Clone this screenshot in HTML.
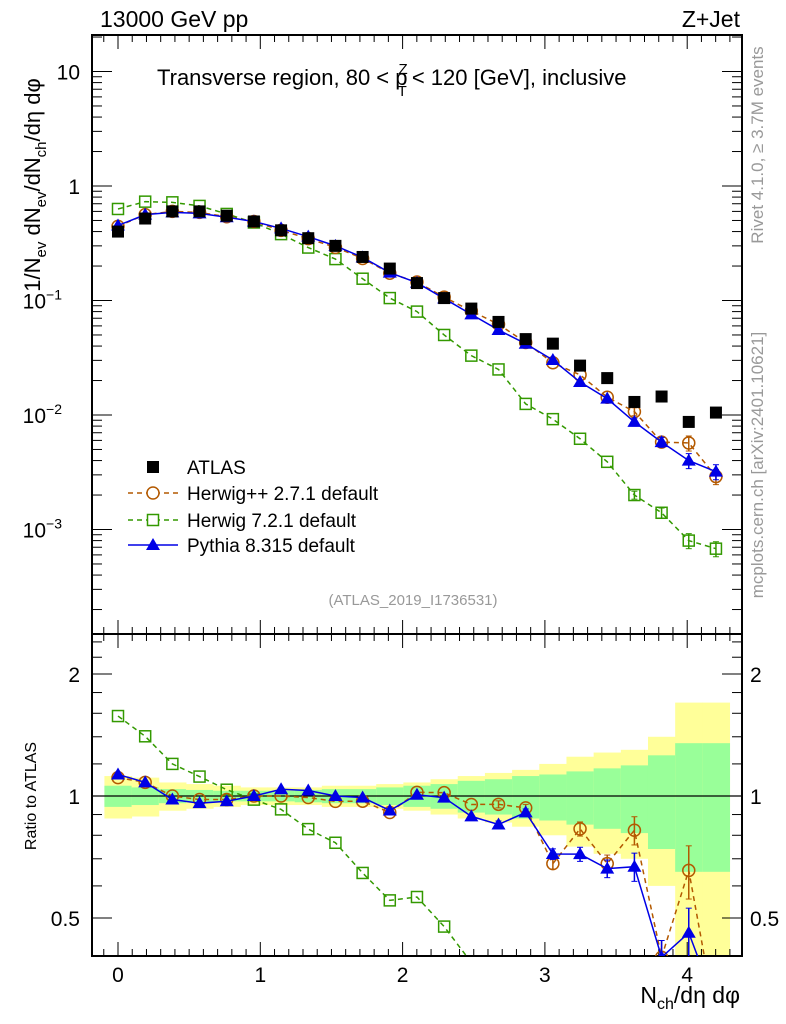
<!DOCTYPE html>
<html><head><meta charset="utf-8">
<style>
html,body{margin:0;padding:0;background:#fff;overflow:hidden;width:786px;height:1024px;}
svg{display:block;font-family:"Liberation Sans",sans-serif;}
</style></head>
<body>
<svg id="c" width="786" height="1024" viewBox="0 0 786 1024"></svg>
<script>
const xs = [0,0.191,0.382,0.573,0.764,0.955,1.146,1.337,1.528,1.719,1.910,2.101,2.292,2.483,2.674,2.865,3.056,3.247,3.438,3.629,3.820,4.011,4.202];
const atlas = [0.40,0.52,0.60,0.60,0.55,0.49,0.41,0.35,0.30,0.24,0.19,0.142,0.105,0.085,0.065,0.046,0.042,0.027,0.021,0.013,0.0145,0.0087,0.0105];
const pythia = [0.452,0.562,0.588,0.576,0.534,0.49,0.426,0.361,0.30,0.238,0.175,0.143,0.104,0.0757,0.0553,0.0419,0.0302,0.0194,0.0139,0.0087,0.0058,0.0040,0.0032];
const herwigpp = [0.444,0.562,0.60,0.588,0.539,0.49,0.41,0.347,0.291,0.233,0.173,0.145,0.107,0.081,0.062,0.043,0.0286,0.0224,0.0143,0.0107,0.0058,0.0057,0.0029];
const herwig7 = [0.63,0.73,0.72,0.67,0.57,0.48,0.38,0.29,0.23,0.155,0.105,0.08,0.05,0.033,0.025,0.0125,0.0092,0.0062,0.0039,0.0020,0.0014,0.0008,0.00068];
const mcErr = [0.01,0.01,0.01,0.01,0.01,0.01,0.01,0.01,0.01,0.01,0.01,0.01,0.01,0.015,0.02,0.02,0.03,0.04,0.05,0.08,0.1,0.15,0.15];
const greenBand = [0.06,0.05,0.04,0.035,0.03,0.03,0.03,0.035,0.04,0.04,0.05,0.06,0.07,0.09,0.10,0.12,0.13,0.15,0.17,0.19,0.26,0.35,0.35];
const yellowBand = [0.12,0.11,0.08,0.07,0.06,0.05,0.05,0.05,0.06,0.06,0.07,0.08,0.10,0.12,0.14,0.16,0.20,0.25,0.28,0.30,0.40,0.70,0.70];
const xTicks = [0,1,2,3,4];
const mainTicks = [10,1,0.1,0.01,0.001];
const ratioTicks = [0.5,1,2];

const NS="http://www.w3.org/2000/svg";
const svg=document.getElementById('c');
const L=92,R=742,T=35,MB=634,RB=956;
const X=v=>118+v*142.3;
const Y=v=>186-Math.log10(v)*114.5;
const YR=v=>796-Math.log2(v)*122;
const YRc=v=>Math.max(T,Math.min(1020,YR(v)));
const cl=(y,a,b)=>Math.max(a,Math.min(b,y));
function el(tag,a,parent){const e=document.createElementNS(NS,tag);for(const k in a)e.setAttribute(k,a[k]);(parent||svg).appendChild(e);return e;}
function txt(s,a,parent){const e=el('text',a,parent);e.textContent=s;return e;}

const defs=el('defs',{});
const cp1=el('clipPath',{id:'cm'},defs);el('rect',{x:L,y:T,width:R-L,height:MB-T},cp1);
const cp2=el('clipPath',{id:'cr'},defs);el('rect',{x:L,y:MB,width:R-L,height:RB-MB},cp2);

const bg=el('g',{'clip-path':'url(#cr)'});


xs.forEach((x,i)=>{
  const x0=X(x-0.0955),w=X(0.191)-X(0);
  const yt1=cl(YR(1+yellowBand[i]),MB,RB),yb1=cl(YR(Math.max(1-yellowBand[i],0.05)),MB,RB);
  const r1=el('rect',{x:x0,y:yt1,width:w+0.5,height:yb1-yt1,fill:'#ffff99'},bg);
  
  
  const yt2=cl(YR(1+greenBand[i]),MB,RB),yb2=cl(YR(1-greenBand[i]),MB,RB);
  const r2=el('rect',{x:x0,y:yt2,width:w+0.5,height:yb2-yt2,fill:'#99ff99'},bg);
  
  
});
el('line',{x1:L,x2:R,y1:YR(1),y2:YR(1),stroke:'#000','stroke-width':1.2});

el('rect',{x:L,y:T,width:R-L,height:MB-T,fill:'none',stroke:'#000','stroke-width':2});
el('rect',{x:L,y:MB,width:R-L,height:RB-MB,fill:'none',stroke:'#000','stroke-width':2});

for(let v=-0.1;v<=4.35;v+=0.1){
  const vv=Math.round(v*10)/10; const major=Math.abs(vv-Math.round(vv))<1e-6;
  const h=major?14:7; const x=X(vv); if(x<L||x>R) continue;
  [T,MB].forEach(y=>el('line',{x1:x,x2:x,y1:y,y2:y+h,stroke:'#000'}));
  [MB,RB].forEach(y=>el('line',{x1:x,x2:x,y1:y,y2:y-h,stroke:'#000'}));
}
xTicks.forEach(v=>{const t=txt(String(v),{x:X(v),y:982,'font-size':21,'text-anchor':'middle'});});

for(let d=-4;d<=1;d++){for(let m=1;m<=9;m++){const v=m*Math.pow(10,d);const y=Y(v);if(y<T||y>MB)continue;const h=m===1?20:10;
  el('line',{x1:L,x2:L+h,y1:y,y2:y,stroke:'#000'});el('line',{x1:R,x2:R-h,y1:y,y2:y,stroke:'#000'});}}
const mainLab=['10','1','10','10','10'];const sup=['','','−1','−2','−3'];
mainTicks.forEach((v,i)=>{const t=txt(mainLab[i],{x:sup[i]?62:80,y:Y(v)+8,'font-size':21,'text-anchor':'end'});
  
  if(sup[i]){const s=el('tspan',{dy:-9,'font-size':14},t);s.textContent=sup[i];}});
[0.5,0.6,0.7,0.8,0.9,1,1.2,1.4,1.6,1.8,2,2.2,2.4].forEach(v=>{const y=YR(v);if(y<MB||y>RB)return;const h=(v===0.5||v===1||v===2)?20:10;
  el('line',{x1:L,x2:L+h,y1:y,y2:y,stroke:'#000'});el('line',{x1:R,x2:R-h,y1:y,y2:y,stroke:'#000'});});
ratioTicks.forEach(v=>{
  const a=txt(String(v),{x:80,y:YR(v)+8,'font-size':21,'text-anchor':'end'});
  const b=txt(String(v),{x:750,y:YR(v)+8,'font-size':21});});

function series(vals,yf,color,dash,marker,clip,name,errs){
  const g=el('g',{'clip-path':clip});
  
  
  if(dash!==null){
    el('polyline',{points:vals.map((v,i)=>X(xs[i])+','+yf(v)).join(' '),fill:'none',stroke:color,'stroke-width':1.5,'stroke-dasharray':dash},g);
  }
  vals.forEach((v,i)=>{
    const x=X(xs[i]),y=yf(v);
    if(errs){const e=errs[i];const y1=yf(v*(1+e)),y2=yf(v*(1-e));
      if(y2-y1>6){el('line',{x1:x,x2:x,y1:y1,y2:y2,stroke:color,'stroke-width':1.5},g);
        el('line',{x1:x-3,x2:x+3,y1:y1,y2:y1,stroke:color},g);el('line',{x1:x-3,x2:x+3,y1:y2,y2:y2,stroke:color},g);}}
    let m;
    if(marker==='sq') m=el('rect',{x:x-6,y:y-6,width:12,height:12,fill:'#000'},g);
    if(marker==='osq') m=el('rect',{x:x-5.5,y:y-5.5,width:11,height:11,fill:'none',stroke:color,'stroke-width':1.5},g);
    if(marker==='oc') m=el('circle',{cx:x,cy:y,r:6,fill:'none',stroke:color,'stroke-width':1.5},g);
    if(marker==='tri') m=el('polygon',{points:`${x},${y-7} ${x-7},${y+5} ${x+7},${y+5}`,fill:color},g);
    
    
  });
}
const br='#b35900',gr='#339900',bl='#0000e6';
series(herwig7,Y,gr,'5,4','osq','url(#cm)','herwig7-main',mcErr);
series(herwigpp,Y,br,'5,4','oc','url(#cm)','herwigpp-main',mcErr);
series(pythia,Y,bl,'','tri','url(#cm)','pythia-main',mcErr);
series(atlas,Y,'#000',null,'sq','url(#cm)','atlas-main',null);
series(herwig7.map((v,i)=>v/atlas[i]),YRc,gr,'5,4','osq','url(#cr)','herwig7-ratio',mcErr);
series(herwigpp.map((v,i)=>v/atlas[i]),YRc,br,'5,4','oc','url(#cr)','herwigpp-ratio',mcErr);
series(pythia.map((v,i)=>v/atlas[i]),YRc,bl,'','tri','url(#cr)','pythia-ratio',mcErr);

const lg=el('g',{});
el('rect',{x:147,y:461,width:12,height:12,fill:'#000'},lg);
txt('ATLAS',{x:187,y:474,'font-size':19},lg);
el('line',{x1:128,x2:178,y1:493,y2:493,stroke:br,'stroke-width':1.5,'stroke-dasharray':'5,4'},lg);
el('circle',{cx:153,cy:493,r:6,fill:'#fff',stroke:br,'stroke-width':1.5},lg);
txt('Herwig++ 2.7.1 default',{x:187,y:500,'font-size':19},lg);
el('line',{x1:128,x2:178,y1:520,y2:520,stroke:gr,'stroke-width':1.5,'stroke-dasharray':'5,4'},lg);
el('rect',{x:147.5,y:514.5,width:11,height:11,fill:'#fff',stroke:gr,'stroke-width':1.5},lg);
txt('Herwig 7.2.1 default',{x:187,y:527,'font-size':19},lg);
el('line',{x1:128,x2:178,y1:545,y2:545,stroke:bl,'stroke-width':1.5},lg);
el('polygon',{points:'153,538 146,550 160,550',fill:bl},lg);
txt('Pythia 8.315 default',{x:187,y:552,'font-size':19},lg);

function T2(s,a,name){const t=txt(s,a);return t;}
T2('13000 GeV pp',{x:100,y:27,'font-size':23},'energy-label');
T2('Z+Jet',{x:740,y:27,'font-size':23,'text-anchor':'end'},'process-label');
const ti=T2('Transverse region, 80 < p',{x:157,y:85,'font-size':22},'plot-title');
const s1=el('tspan',{dy:-11,'font-size':15,dx:-9},ti);s1.textContent='Z';
const s2=el('tspan',{dy:22,'font-size':15,dx:-10},ti);s2.textContent='T';
const s3=el('tspan',{dy:-11,dx:5},ti);s3.textContent='< 120 [GeV], inclusive';
T2('(ATLAS_2019_I1736531)',{x:413,y:605,'font-size':15,fill:'#999','text-anchor':'middle'},'analysis-id');
const yt=T2('1/N',{transform:'translate(40,185) rotate(-90)','font-size':22,'text-anchor':'middle'},'y-axis-title');
[['ev',1],[' dN',0],['ev',1],['/dN',0],['ch',1],['/dη dφ',0]].forEach(([s,sub])=>{const t=el('tspan',{},yt);if(sub){t.setAttribute('font-size',15);t.setAttribute('dy',6);}else{t.setAttribute('dy',-6);}t.textContent=s;});
T2('Ratio to ATLAS',{transform:'translate(36,796) rotate(-90)','font-size':16,'text-anchor':'middle'},'ratio-axis-title');
const xt=T2('N',{x:740,y:1003,'font-size':23,'text-anchor':'end'},'x-axis-title');
const xs1=el('tspan',{'font-size':16,dy:6},xt);xs1.textContent='ch';
const xs2=el('tspan',{dy:-6},xt);xs2.textContent='/dη dφ';
T2('Rivet 4.1.0, ≥ 3.7M events',{transform:'translate(763,145) rotate(-90)','font-size':17,fill:'#999','text-anchor':'middle'},'rivet-label');
T2('mcplots.cern.ch [arXiv:2401.10621]',{transform:'translate(763,465) rotate(-90)','font-size':17,fill:'#999','text-anchor':'middle'},'mcplots-label');
</script>
</body></html>
